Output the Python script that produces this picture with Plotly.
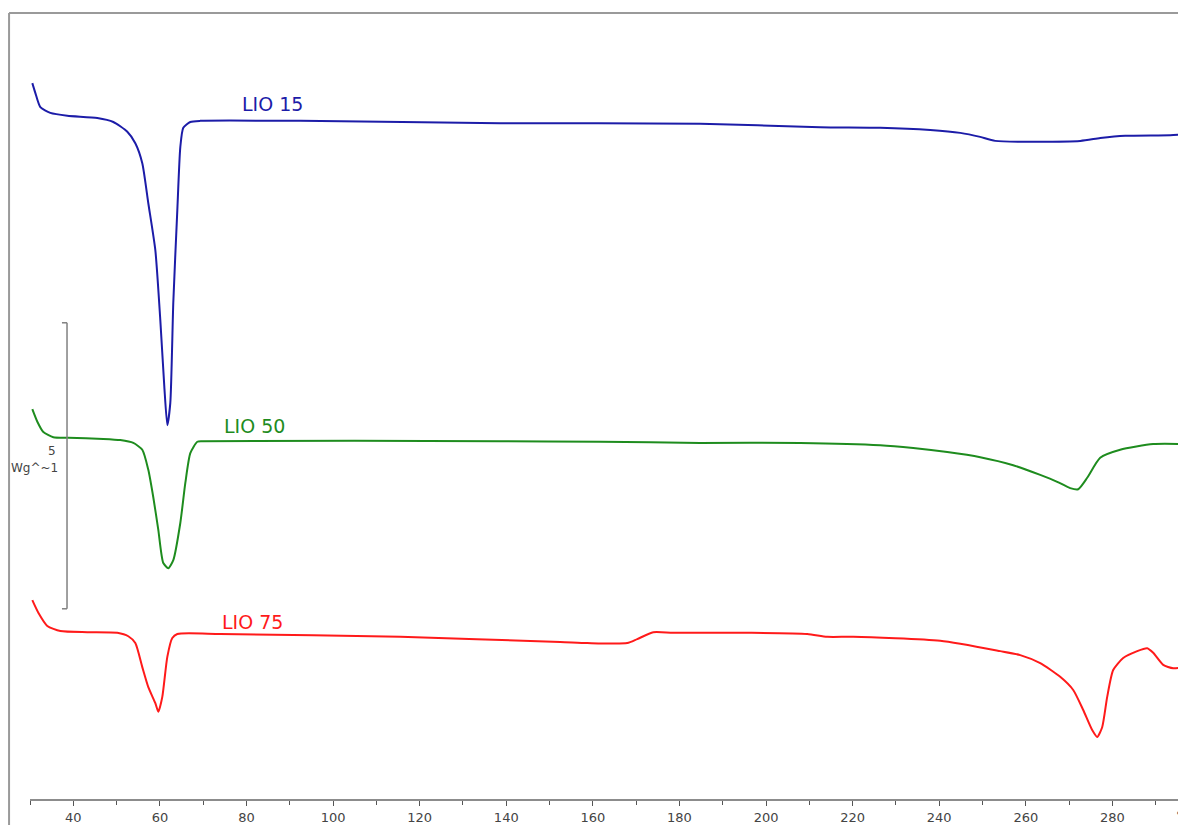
import plotly.graph_objects as go

# DSC heating curves, temperature in degC, heat flow in W/g (curves offset vertically)
temp_lio15 = [30.53, 31.22, 32.38, 34.69, 38.61, 45.54, 49.24, 52.47, 54.32, 55.93,
              57.32, 58.94, 60.09, 61.02, 61.71, 62.40, 63.09, 64.02, 64.71, 65.40,
              67.02, 69.33, 92.42, 138.61, 184.80, 212.52, 226.37, 237.92, 244.85,
              249.47, 252.93, 272.56, 277.18, 282.96, 293.35, 297.04]
hf_lio15 = [12.97, 12.80, 12.55, 12.45, 12.40, 12.36, 12.29, 12.12, 11.92, 11.57,
            10.87, 10.05, 8.83, 7.66, 6.99, 7.38, 9.13, 10.75, 11.85, 12.19,
            12.29, 12.31, 12.31, 12.27, 12.26, 12.20, 12.19, 12.15, 12.10,
            12.03, 11.96, 11.96, 12.01, 12.05, 12.06, 12.08]

temp_lio50 = [30.53, 31.69, 33.07, 35.38, 38.84, 46.93, 50.85, 53.86, 55.93, 57.32,
              58.47, 59.63, 60.78, 61.94, 63.09, 64.71, 65.87, 67.02, 68.64, 69.79,
              138.61, 161.71, 184.80, 207.90, 226.37, 233.99, 241.85, 249.47, 257.09,
              263.33, 267.25, 270.25, 272.10, 274.18, 277.18, 281.80, 289.42, 297.04]
hf_lio50 = [7.27, 7.05, 6.87, 6.78, 6.77, 6.75, 6.73, 6.68, 6.56, 6.21,
            5.73, 5.16, 4.58, 4.49, 4.63, 5.28, 5.98, 6.50, 6.70, 6.71,
            6.71, 6.70, 6.68, 6.68, 6.64, 6.59, 6.52, 6.43, 6.29,
            6.12, 6.00, 5.89, 5.87, 6.07, 6.42, 6.56, 6.66, 6.66]

temp_lio75 = [30.53, 31.92, 33.99, 37.00, 43.23, 50.16, 52.70, 54.32, 55.93, 57.32,
              58.94, 59.63, 60.55, 61.71, 62.86, 64.02, 73.95, 115.52, 152.47, 158.71,
              167.94, 170.25, 173.95, 178.57, 196.35, 209.51, 214.14, 220.14, 240.23,
              254.09, 258.71, 263.33, 267.94, 270.95, 273.26, 275.33, 276.49, 277.64,
              278.80, 280.18, 282.49, 285.73, 288.04, 289.42, 291.73, 294.04, 297.04]
hf_lio75 = [3.93, 3.71, 3.48, 3.39, 3.37, 3.36, 3.30, 3.18, 2.76, 2.41,
            2.13, 1.98, 2.24, 2.94, 3.27, 3.34, 3.34, 3.29, 3.20, 3.18,
            3.18, 3.25, 3.37, 3.36, 3.36, 3.34, 3.29, 3.29, 3.22,
            3.04, 2.97, 2.83, 2.59, 2.36, 2.01, 1.66, 1.54, 1.71,
            2.24, 2.71, 2.92, 3.04, 3.09, 3.01, 2.80, 2.74, 2.76]

series = [
    ("LIO 15", temp_lio15, hf_lio15, "#1c1ca8", 85.9, 12.60),
    ("LIO 50", temp_lio50, hf_lio50, "#1e8c1e", 81.8, 6.98),
    ("LIO 75", temp_lio75, hf_lio75, "#ff1a1a", 81.3, 3.55),
]

# scale bar: 5 W/g
scale_bottom = 3.78
scale_size = 5

fig = go.Figure()
for name, t, hf, color, lx, ly in series:
    fig.add_trace(go.Scatter(
        x=t, y=hf, mode="lines", name=name,
        line=dict(color=color, width=2, shape="spline", smoothing=0.6),
        showlegend=False
    ))
    fig.add_annotation(x=lx, y=ly, text=name, showarrow=False,
                       font=dict(family="DejaVu Sans", size=19, color=color))

# frame (left + top border)
frame = dict(color="#9a9a9a", width=2)
fig.add_shape(type="line", xref="paper", yref="paper", x0=0.0009, x1=0.0009, y0=0, y1=0.9939, line=frame)
fig.add_shape(type="line", xref="paper", yref="paper", x0=0.0009, x1=1, y0=0.9939, y1=0.9939, line=frame)

# scale bar bracket
bar = dict(color="#808080", width=1.5)
sb_top = scale_bottom + scale_size
sb_mid = scale_bottom + scale_size / 2
fig.add_shape(type="line", xref="paper", yref="y", x0=0.0501, x1=0.0501, y0=scale_bottom, y1=sb_top, line=bar)
fig.add_shape(type="line", xref="paper", yref="y", x0=0.0458, x1=0.0501, y0=sb_top, y1=sb_top, line=bar)
fig.add_shape(type="line", xref="paper", yref="y", x0=0.0458, x1=0.0501, y0=scale_bottom, y1=scale_bottom, line=bar)
fig.add_annotation(xref="paper", yref="y", x=0.0424, y=sb_mid + 0.26,
                   text=str(scale_size), showarrow=False, xanchor="right",
                   font=dict(family="DejaVu Sans", size=12, color="#444"))
fig.add_annotation(xref="paper", yref="y", x=0.0229, y=sb_mid - 0.04,
                   text="Wg^~1", showarrow=False, xanchor="center",
                   font=dict(family="DejaVu Sans", size=12, color="#444"))

# unit label at the right end of the axis (partly outside the view, as in the original)
fig.add_annotation(xref="paper", yref="paper", x=0.9895, y=0.0122, text="°C",
                   showarrow=False, xanchor="left", yanchor="middle",
                   font=dict(family="DejaVu Sans", size=13, color="#444"))

fig.update_layout(
    width=1178, height=817,
    margin=dict(l=0, r=0, t=0, b=0, autoexpand=False),
    paper_bgcolor="white", plot_bgcolor="white",
    xaxis=dict(
        domain=[0.0187, 1], range=[30, 297], anchor="free", position=0.0306,
        showgrid=False, zeroline=False, showline=True, linecolor="#8c8c8c", linewidth=2,
        ticks="outside", ticklen=5, tickcolor="#555", dtick=20, tick0=0,
        minor=dict(dtick=10, ticks="outside", ticklen=4, tickcolor="#555"),
        tickfont=dict(family="DejaVu Sans", size=13, color="#444"),
    ),
    yaxis=dict(domain=[0, 1], range=[0, 14.283], visible=False),
)

fig.write_html("out.html")
